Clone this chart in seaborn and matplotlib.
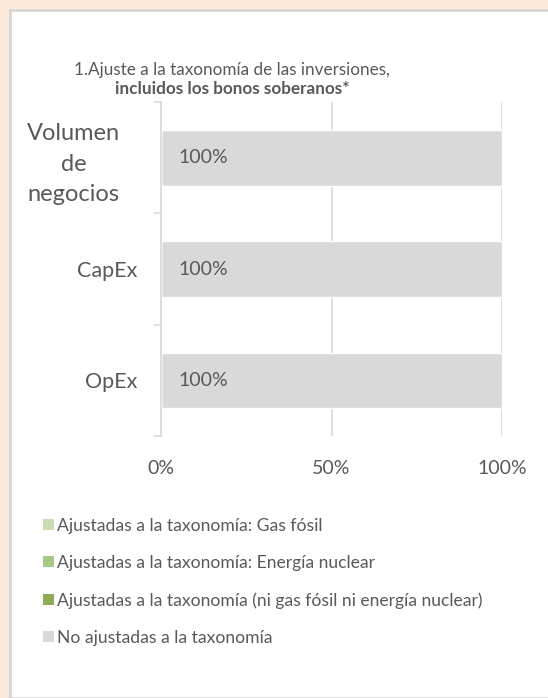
import pandas as pd
import matplotlib.pyplot as plt
import matplotlib.transforms as mtransforms
import seaborn as sns
from matplotlib.patches import Patch, Rectangle

# ==========================================
# 1. Datos
# ==========================================
categories = ['Volumen\nde\nnegocios', 'CapEx', 'OpEx']
series_names = [
    'Ajustadas a la taxonomía: Gas fósil',
    'Ajustadas a la taxonomía: Energía nuclear',
    'Ajustadas a la taxonomía (ni gas fósil ni energía nuclear)',
    'No ajustadas a la taxonomía',
]
gas_fosil = [0, 0, 0]
energia_nuclear = [0, 0, 0]
ni_gas_ni_nuclear = [0, 0, 0]
no_ajustadas = [100, 100, 100]
series_colors = ['#C9DDB5', '#AAC887', '#8EAB55', '#D9D9D9']
x_ticks = [0, 50, 100]
x_tick_labels = ['0%', '50%', '100%']

TEXT = '#595959'
GRID = '#D9D9D9'

df = pd.DataFrame({
    'Categoria': categories,
    series_names[0]: gas_fosil,
    series_names[1]: energia_nuclear,
    series_names[2]: ni_gas_ni_nuclear,
    series_names[3]: no_ajustadas,
})
# acumulados para apilar (se dibuja del total hacia el primero)
cum = df[series_names].cumsum(axis=1)

# ==========================================
# 2. Figura
# ==========================================
sns.set_style("white")
plt.rcParams['font.family'] = ['Lato', 'DejaVu Sans']

fig = plt.figure(figsize=(5.48, 6.98), dpi=100)
fig.patch.set_facecolor('#FBE8D8')
fig.patches.append(Rectangle((10 / 548, 0), 1, 1 - 10 / 698, transform=fig.transFigure,
                             facecolor='white', edgecolor='#D6D6D6', linewidth=2, zorder=-5))

ax = fig.add_axes([161 / 548, 262 / 698, 341 / 548, 334 / 698])
ax.set_facecolor('none')

for i in range(len(series_names) - 1, -1, -1):
    sns.barplot(x=cum[series_names[i]], y=df['Categoria'], orient='h', color=series_colors[i],
                width=0.5, saturation=1, ax=ax, zorder=2)

# etiquetas de datos
for j, cat in enumerate(categories):
    start = cum[series_names[2]][j]
    ax.text(start + 5, j, f"{no_ajustadas[j]}%", va='center', ha='left', fontsize=14,
            color=TEXT, zorder=3)

ax.set_xlim(0, 100)
ax.set_ylim(2.5, -0.5)
ax.set_xticks(x_ticks)
ax.set_xticklabels(x_tick_labels)
ax.set_xlabel('')
ax.set_ylabel('')
ax.grid(axis='x', color=GRID, linewidth=1.2, zorder=0)
ax.grid(axis='y', visible=False)
for s in ['top', 'right', 'bottom']:
    ax.spines[s].set_visible(False)
ax.spines['left'].set_color(GRID)
ax.spines['left'].set_linewidth(1.2)

ax.set_yticks(range(len(categories)))
ax.set_yticklabels(categories, multialignment='center')
ax.set_yticks([-0.5, 0.5, 1.5, 2.5], minor=True)
ax.tick_params(axis='y', which='major', left=False, length=0, pad=17, labelsize=15.5,
               labelcolor=TEXT)
ax.tick_params(axis='y', which='minor', left=True, length=5, width=1.2, color=GRID)
ax.tick_params(axis='x', length=0, pad=17, labelsize=14, labelcolor=TEXT)

# la etiqueta de varias líneas va más grande y desplazada a la izquierda
first = ax.get_yticklabels()[0]
first.set_fontsize(17)
first.set_linespacing(1.55)
first.set_transform(first.get_transform() +
                    mtransforms.ScaledTranslation(-0.17, 0, fig.dpi_scale_trans))

# ==========================================
# 3. Título y leyenda
# ==========================================
fig.text(232 / 548, 1 - 70 / 698, '1.Ajuste a la taxonomía de las inversiones,',
         ha='center', va='center', fontsize=12.3, color=TEXT)
fig.text(232 / 548, 1 - 89 / 698, 'incluidos los bonos soberanos*',
         ha='center', va='center', fontsize=12.3, color=TEXT, fontweight='bold')

handles = [Patch(facecolor=c, edgecolor='none') for c in series_colors]
fig.legend(handles, series_names, loc='upper left', bbox_to_anchor=(36 / 548, 1 - 511 / 698),
           frameon=False, fontsize=12.6, labelcolor=TEXT, handlelength=0.6, handleheight=0.6,
           handletextpad=0.2, labelspacing=1.2, borderaxespad=0)

plt.savefig('out.png', dpi=100)
